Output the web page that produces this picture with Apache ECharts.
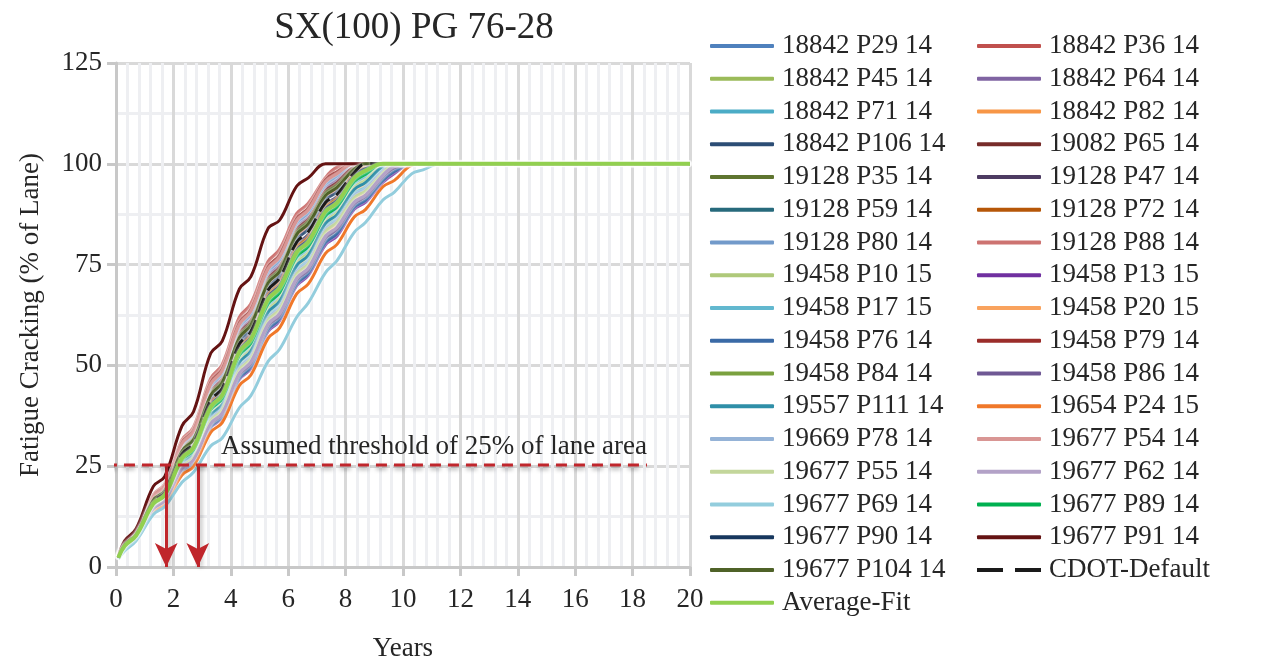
<!DOCTYPE html>
<html>
<head>
<meta charset="utf-8">
<script src="https://cdn.jsdelivr.net/npm/echarts@6/dist/echarts.min.js"></script>
<style>
  html, body { margin: 0; padding: 0; background: #fff; }
  #chart { width: 1270px; height: 667px; }
</style>
</head>
<body>
<div id="chart"></div>
<script>
// sample times (years) shared by all curves
const years = [0.08, 0.3, 0.7, 1.3, 1.7, 2.3, 2.7, 3.3, 3.7, 4.3, 4.7, 5.3, 5.7, 6.3, 6.7, 7.3, 7.7, 8.3, 8.7, 9.3, 9.7, 10.3, 10.7, 11.3, 20];

// fatigue cracking (% of lane)
const s18842_P29 = [2.4, 5.8, 8.5, 17.2, 19.7, 30.0, 32.9, 44.4, 47.6, 59.0, 62.2, 72.7, 75.6, 84.8, 87.4, 94.4, 96.4, 100, 100, 100, 100, 100, 100, 100, 100];
const s18842_P36 = [2.3, 5.5, 8.1, 16.4, 18.8, 28.5, 31.3, 42.1, 45.2, 56.4, 59.5, 69.8, 72.7, 81.8, 84.4, 91.5, 93.5, 98.6, 100, 100, 100, 100, 100, 100, 100];
const s18842_P45 = [2.3, 5.0, 7.6, 15.2, 17.4, 26.1, 28.5, 38.3, 41.1, 51.6, 54.5, 64.3, 67.0, 75.9, 78.4, 86.1, 88.3, 94.6, 96.4, 100, 100, 100, 100, 100, 100];
const s18842_P64 = [2.4, 5.7, 8.4, 17.1, 19.5, 29.6, 32.5, 43.9, 47.1, 58.4, 61.6, 72.1, 75.0, 84.2, 86.8, 93.8, 95.8, 100, 100, 100, 100, 100, 100, 100, 100];
const s18842_P71 = [2.3, 5.1, 7.7, 15.4, 17.6, 26.3, 28.8, 38.7, 41.5, 52.1, 55.0, 64.8, 67.5, 76.5, 79.0, 86.6, 88.8, 95.1, 96.9, 100, 100, 100, 100, 100, 100];
const s18842_P82 = [2.3, 4.9, 7.5, 14.9, 17.0, 25.4, 27.8, 37.3, 40.0, 50.2, 53.1, 62.7, 65.4, 74.3, 76.8, 84.7, 87.0, 93.1, 94.9, 99.0, 100, 100, 100, 100, 100];
const s18842_P106 = [2.3, 5.5, 8.1, 16.3, 18.7, 28.3, 31.0, 41.7, 44.8, 55.9, 59.0, 69.3, 72.2, 81.2, 83.8, 91.0, 93.0, 98.2, 100, 100, 100, 100, 100, 100, 100];
const s19082_P65 = [2.4, 5.7, 8.4, 16.9, 19.3, 29.4, 32.2, 43.5, 46.6, 57.9, 61.1, 71.5, 74.4, 83.7, 86.3, 93.3, 95.3, 99.4, 100, 100, 100, 100, 100, 100, 100];
const s19128_P35 = [2.4, 5.6, 8.3, 16.7, 19.1, 29.1, 31.9, 43.0, 46.1, 57.3, 60.5, 70.9, 73.8, 83.1, 85.7, 92.7, 94.7, 98.8, 100, 100, 100, 100, 100, 100, 100];
const s19128_P47 = [2.3, 5.4, 8.0, 16.1, 18.4, 27.8, 30.4, 41.0, 43.9, 54.8, 57.9, 68.1, 71.0, 80.0, 82.5, 89.9, 91.9, 97.7, 99.7, 100, 100, 100, 100, 100, 100];
const s19128_P59 = [2.3, 4.5, 7.2, 14.2, 16.2, 24.0, 26.2, 35.1, 37.6, 47.3, 50.0, 59.3, 61.9, 70.7, 73.2, 81.0, 83.2, 89.6, 91.4, 96.3, 98.5, 100, 100, 100, 100];
const s19128_P72 = [2.3, 5.3, 7.9, 15.9, 18.2, 27.5, 30.1, 40.6, 43.5, 54.3, 57.4, 67.5, 70.4, 79.3, 81.8, 89.3, 91.4, 97.6, 99.3, 100, 100, 100, 100, 100, 100];
const s19128_P80 = [2.4, 5.8, 8.5, 17.3, 19.8, 30.3, 33.2, 44.8, 48.1, 59.6, 62.8, 73.3, 76.2, 85.3, 87.9, 95.0, 97.0, 100, 100, 100, 100, 100, 100, 100, 100];
const s19128_P88 = [2.4, 6.0, 8.8, 17.9, 20.5, 31.5, 34.6, 46.7, 50.1, 61.9, 65.2, 75.7, 78.7, 87.6, 90.1, 96.5, 99.1, 100, 100, 100, 100, 100, 100, 100, 100];
const s19458_P10 = [2.3, 5.0, 7.6, 15.1, 17.3, 25.9, 28.3, 38.0, 40.7, 51.2, 54.1, 63.8, 66.5, 75.4, 77.9, 85.7, 87.9, 94.1, 95.9, 99.7, 100, 100, 100, 100, 100];
const s19458_P13 = [2.3, 4.4, 7.1, 14.0, 16.0, 23.6, 25.7, 34.5, 37.0, 46.5, 49.2, 58.4, 61.0, 69.8, 72.3, 79.9, 82.1, 88.7, 90.5, 95.4, 97.6, 100, 100, 100, 100];
const s19458_P17 = [2.3, 4.8, 7.4, 14.8, 16.9, 25.2, 27.5, 36.9, 39.6, 49.7, 52.6, 62.2, 64.9, 73.7, 76.2, 84.2, 86.5, 92.6, 94.3, 98.6, 100, 100, 100, 100, 100];
const s19458_P20 = [2.3, 4.7, 7.3, 14.5, 16.6, 24.6, 26.9, 36.0, 38.6, 48.5, 51.3, 60.8, 63.4, 72.2, 74.7, 82.7, 84.9, 91.1, 92.8, 97.5, 99.7, 100, 100, 100, 100];
const s19458_P76 = [2.3, 4.5, 7.2, 14.1, 16.1, 23.8, 26.0, 34.8, 37.3, 46.9, 49.6, 58.9, 61.5, 70.3, 72.8, 80.5, 82.7, 89.2, 91.0, 95.9, 98.1, 100, 100, 100, 100];
const s19458_P79 = [2.4, 5.9, 8.6, 17.6, 20.1, 30.9, 33.9, 45.8, 49.1, 60.6, 63.9, 74.4, 77.4, 86.4, 89.0, 96.0, 98.0, 100, 100, 100, 100, 100, 100, 100, 100];
const s19458_P84 = [2.3, 5.2, 7.8, 15.6, 17.8, 26.8, 29.3, 39.4, 42.2, 53.0, 56.0, 65.9, 68.6, 77.6, 80.1, 87.7, 89.8, 96.1, 97.9, 100, 100, 100, 100, 100, 100];
const s19458_P86 = [2.3, 4.6, 7.2, 14.3, 16.3, 24.2, 26.4, 35.4, 37.9, 47.7, 50.5, 59.8, 62.4, 71.2, 73.7, 81.6, 83.8, 90.1, 91.9, 96.8, 99.0, 100, 100, 100, 100];
const s19557_P111 = [2.3, 4.9, 7.5, 15.0, 17.1, 25.6, 28.0, 37.6, 40.3, 50.7, 53.6, 63.2, 65.9, 74.8, 77.3, 85.2, 87.4, 93.6, 95.4, 99.4, 100, 100, 100, 100, 100];
const s19654_P24 = [2.2, 4.3, 6.9, 13.6, 15.5, 22.8, 24.9, 33.4, 35.8, 45.0, 47.6, 56.7, 59.3, 67.8, 70.2, 77.8, 80.0, 86.8, 88.7, 94.3, 95.9, 99.6, 100, 100, 100];
const s19669_P78 = [2.3, 4.8, 7.4, 14.7, 16.8, 25.0, 27.3, 36.6, 39.3, 49.3, 52.2, 61.7, 64.4, 73.2, 75.7, 83.7, 86.0, 92.1, 93.8, 98.2, 100, 100, 100, 100, 100];
const s19677_P54 = [2.4, 5.9, 8.6, 17.5, 20.0, 30.6, 33.6, 45.3, 48.6, 60.1, 63.4, 73.9, 76.8, 85.9, 88.5, 95.5, 97.5, 100, 100, 100, 100, 100, 100, 100, 100];
const s19677_P55 = [2.3, 4.7, 7.3, 14.6, 16.7, 24.8, 27.1, 36.3, 38.9, 48.9, 51.7, 61.2, 63.9, 72.7, 75.2, 83.2, 85.5, 91.6, 93.3, 97.7, 100, 100, 100, 100, 100];
const s19677_P62 = [2.3, 4.6, 7.2, 14.4, 16.4, 24.4, 26.6, 35.6, 38.2, 48.1, 50.9, 60.3, 62.9, 71.7, 74.2, 82.1, 84.3, 90.5, 92.3, 97.2, 99.4, 100, 100, 100, 100];
const s19677_P69 = [2.0, 4.0, 6.5, 13.0, 15.0, 21.0, 23.5, 30.0, 32.0, 39.5, 42.5, 51.0, 54.0, 62.0, 65.5, 73.0, 76.0, 83.0, 85.5, 91.0, 93.0, 97.5, 98.5, 100, 100];
const s19677_P89 = [2.3, 5.1, 7.7, 15.5, 17.7, 26.5, 29.0, 39.0, 41.8, 52.5, 55.5, 65.3, 68.0, 77.0, 79.5, 87.1, 89.3, 95.6, 97.4, 100, 100, 100, 100, 100, 100];
const s19677_P90 = [2.3, 5.3, 7.9, 15.8, 18.1, 27.3, 29.9, 40.2, 43.1, 53.9, 57.0, 67.0, 69.8, 78.7, 81.2, 88.8, 90.9, 97.1, 98.8, 100, 100, 100, 100, 100, 100];
const s19677_P91 = [2.5, 6.5, 9.5, 20.0, 22.5, 35.0, 38.5, 53.0, 56.0, 69.0, 72.0, 84.0, 86.0, 94.5, 96.5, 100, 100, 100, 100, 100, 100, 100, 100, 100, 100];
const s19677_P104 = [2.4, 5.6, 8.2, 16.6, 19.0, 28.8, 31.6, 42.6, 45.7, 56.9, 60.0, 70.4, 73.3, 82.5, 85.1, 92.1, 94.1, 98.7, 100, 100, 100, 100, 100, 100, 100];
const cdotDefault = [2.3, 5.4, 8.0, 16.2, 18.5, 28.0, 30.7, 41.3, 44.3, 55.3, 58.4, 68.7, 71.6, 80.6, 83.1, 90.4, 92.4, 97.8, 100, 100, 100, 100, 100, 100, 100];
const averageFit = [2.3, 5.2, 7.8, 15.7, 17.9, 27.0, 29.6, 39.7, 42.6, 53.4, 56.5, 66.4, 69.2, 78.1, 80.6, 88.2, 90.3, 96.5, 98.3, 100, 100, 100, 100, 100, 100];

const seriesNames = [
  '18842 P29 14', '18842 P36 14', '18842 P45 14', '18842 P64 14', '18842 P71 14', '18842 P82 14',
  '18842 P106 14', '19082 P65 14', '19128 P35 14', '19128 P47 14', '19128 P59 14', '19128 P72 14',
  '19128 P80 14', '19128 P88 14', '19458 P10 15', '19458 P13 15', '19458 P17 15', '19458 P20 15',
  '19458 P76 14', '19458 P79 14', '19458 P84 14', '19458 P86 14', '19557 P111 14', '19654 P24 15',
  '19669 P78 14', '19677 P54 14', '19677 P55 14', '19677 P62 14', '19677 P69 14', '19677 P89 14',
  '19677 P90 14', '19677 P91 14', '19677 P104 14', 'CDOT-Default', 'Average-Fit'
];
const seriesValues = [
  s18842_P29, s18842_P36, s18842_P45, s18842_P64, s18842_P71, s18842_P82,
  s18842_P106, s19082_P65, s19128_P35, s19128_P47, s19128_P59, s19128_P72,
  s19128_P80, s19128_P88, s19458_P10, s19458_P13, s19458_P17, s19458_P20,
  s19458_P76, s19458_P79, s19458_P84, s19458_P86, s19557_P111, s19654_P24,
  s19669_P78, s19677_P54, s19677_P55, s19677_P62, s19677_P69, s19677_P89,
  s19677_P90, s19677_P91, s19677_P104, cdotDefault, averageFit
];
const seriesColors = [
  '#4f81bd', '#c0504d', '#9bbb59', '#8064a2', '#4bacc6', '#f79646',
  '#2c4d75', '#772c2a', '#5f7530', '#4d3b62', '#276a7c', '#b65708',
  '#729aca', '#cd7371', '#afc97a', '#7030a0', '#62b8cf', '#f9a35e',
  '#3a6aa6', '#9b2d2a', '#7aa13f', '#6f5894', '#2f8fa8', '#f0782a',
  '#95b3d7', '#d99694', '#c3d69b', '#b3a2c7', '#93cddd', '#00b050',
  '#17375e', '#641313', '#4f6228', '#1a1a1a', '#92d050'
];

const thresholdLevel = 25.3;
const thresholdSpan = [-0.35, 18.5];
const arrowYears = [1.75, 2.85];

const FONT = '"Liberation Serif", "Times New Roman", serif';
const chart = echarts.init(document.getElementById('chart'));

const curveSeries = seriesNames.map((name, i) => ({
  name: name,
  type: 'line',
  data: years.map((x, j) => [x, seriesValues[i][j]]),
  smooth: 0.4,
  symbol: 'none',
  color: seriesColors[i],
  lineStyle: {
    width: name === 'Average-Fit' ? 4 : (name === '19128 P88 14' ? 3.5 : 3),
    type: name === 'CDOT-Default' ? [16, 8] : 'solid',
    shadowColor: 'rgba(255,255,255,0.9)',
    shadowBlur: 3
  },
  emphasis: { disabled: true }
}));

const red = '#c0262c';
const thresholdSeries = {
  name: 'threshold',
  type: 'line',
  data: thresholdSpan.map(x => [x, thresholdLevel]),
  symbol: 'none',
  clip: false,
  silent: true,
  z: 5,
  lineStyle: { color: red, width: 3, type: [11, 7], shadowColor: 'rgba(0,0,0,0.35)', shadowBlur: 4, shadowOffsetY: 3 },
  markPoint: {
    silent: true,
    symbol: 'circle',
    symbolSize: 0,
    data: [{ coord: [thresholdSpan[1], thresholdLevel] }],
    label: {
      show: true,
      position: 'left',
      distance: 0,
      offset: [0, -18],
      formatter: 'Assumed threshold of 25% of lane area',
      fontFamily: FONT, fontSize: 27, color: '#262626'
    }
  },
  markLine: {
    silent: true,
    symbol: ['none', 'arrow'],
    symbolSize: [17, 24],
    label: { show: false },
    lineStyle: { color: red, width: 3, type: 'solid', shadowColor: 'rgba(0,0,0,0.3)', shadowBlur: 4, shadowOffsetX: 2 },
    data: arrowYears.map(x => [{ coord: [x, thresholdLevel] }, { coord: [x, 0] }])
  }
};

const dashIcon = 'path://M0 0H26V4H0Z M38 0H64V4H38Z';
const legendItems = seriesNames.map(n => n === 'CDOT-Default' ? { name: n, icon: dashIcon } : { name: n });
const legendCommon = {
  orient: 'vertical',
  top: 26,
  itemWidth: 64,
  itemHeight: 4,
  itemGap: 2.75,
  icon: 'roundRect',
  selectedMode: false,
  textStyle: { fontFamily: FONT, fontSize: 27, color: '#262626', lineHeight: 30, padding: [0, 0, 0, 3] }
};

chart.setOption({
  animation: false,
  title: {
    text: 'SX(100) PG 76-28',
    left: 409,
    top: 5,
    textAlign: 'center',
    textStyle: { fontFamily: FONT, fontSize: 37, fontWeight: 'normal', color: '#262626' }
  },
  legend: [
    Object.assign({}, legendCommon, { left: 705, data: legendItems.filter((n, i) => i % 2 === 0) }),
    Object.assign({}, legendCommon, { left: 972, data: legendItems.filter((n, i) => i % 2 === 1) })
  ],
  grid: { left: 116, right: 580, top: 63, bottom: 90 },
  xAxis: {
    type: 'value', min: 0, max: 20, interval: 2,
    name: 'Years', nameLocation: 'middle', nameGap: 68,
    nameTextStyle: { fontFamily: FONT, fontSize: 27, color: '#262626' },
    axisLine: { lineStyle: { color: '#c8c8c8', width: 3 } },
    axisTick: { show: true, length: 9, lineStyle: { color: '#c8c8c8', width: 3 } },
    axisLabel: { fontFamily: FONT, fontSize: 27, color: '#262626', margin: 19 },
    splitLine: { show: true, lineStyle: { color: '#d9d9d9', width: 3 } },
    minorTick: { show: false, splitNumber: 5 },
    minorSplitLine: { show: true, lineStyle: { color: '#eeeff2', width: 3 } }
  },
  yAxis: {
    type: 'value', min: 0, max: 125, interval: 25,
    name: 'Fatigue Cracking (% of Lane)', nameLocation: 'middle', nameGap: 72,
    nameTextStyle: { fontFamily: FONT, fontSize: 27, color: '#262626' },
    axisLine: { show: true, lineStyle: { color: '#c8c8c8', width: 3 } },
    axisTick: { show: true, length: 9, lineStyle: { color: '#c8c8c8', width: 3 } },
    axisLabel: { fontFamily: FONT, fontSize: 27, color: '#262626', margin: 14 },
    splitLine: { show: true, lineStyle: { color: '#d9d9d9', width: 3 } },
    minorTick: { show: false, splitNumber: 2 },
    minorSplitLine: { show: true, lineStyle: { color: '#eeeff2', width: 3 } }
  },
  series: curveSeries.concat([thresholdSeries])
});
</script>
</body>
</html>
